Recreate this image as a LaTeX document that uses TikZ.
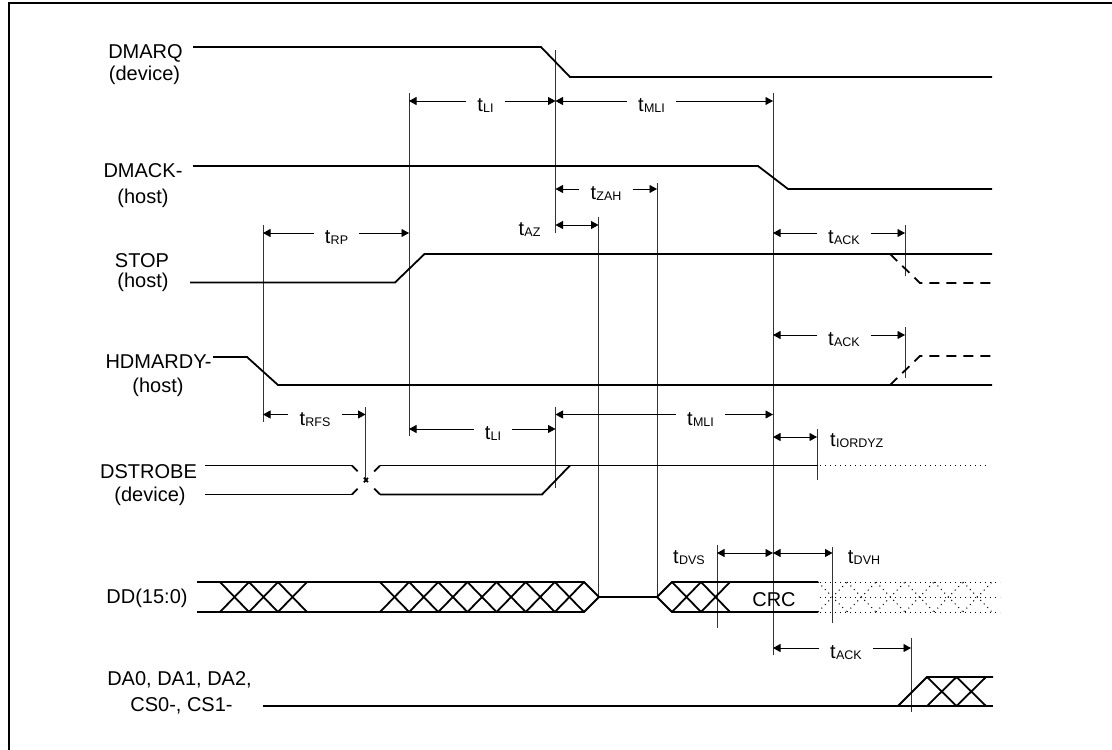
\documentclass[tikz,border=0pt]{standalone}
\usepackage{fontspec}
\setmainfont{Liberation Sans}
\usetikzlibrary{arrows.meta}
\newcommand{\tsubx}[1]{t\kern0.3pt{\fontsize{12.5}{14}\selectfont\raisebox{-1.2pt}{#1}}}
\begin{document}
\begin{tikzpicture}[x=1pt,y=-1pt,
  sig/.style={line width=1.8pt},
  tl/.style={line width=0.9pt,black!80},
  dimr/.style={line width=0.9pt,-{Triangle[length=7.5pt,width=8pt]}},
  dimb/.style={line width=0.9pt,{Triangle[length=7.5pt,width=8pt]}-{Triangle[length=7.5pt,width=8pt]}},
  lbl/.style={font=\fontsize{20}{24}\selectfont,anchor=base,inner sep=0pt},
  tlb/.style={font=\fontsize{20}{24}\selectfont,anchor=base,inner xsep=11pt,inner ysep=0pt},
  dsh/.style={line width=1.8pt,dash pattern=on 10pt off 7pt},
  dot/.style={line width=1pt,dash pattern=on 1pt off 4pt}
]
\useasboundingbox (0,0) rectangle (1112,750);
\fill[white] (0,0) rectangle (1112,750);
% frame
\draw[line width=1.3pt] (9,750) -- (9,3) -- (1112,3);

% signal labels
\node[lbl] (n1a) at (145.5,58) {DMARQ};
\node[lbl] (n1b) at (144.5,80.5) {(device)};
\node[lbl] (n2a) at (143,177) {DMACK-};
\node[lbl] (n2b) at (143,203.5) {(host)};
\node[lbl] (n3a) at (142,267) {STOP};
\node[lbl] (n3b) at (143,287.5) {(host)};
\node[lbl] (n4a) at (158.5,368.5) {HDMARDY-};
\node[lbl] (n4b) at (158,392) {(host)};
\node[lbl] (n5a) at (148.5,478.5) {DSTROBE};
\node[lbl] (n5b) at (150,501.5) {(device)};
\node[lbl] (n6) at (147,603) {DD(15:0)};
\node[lbl] (n7a) at (179.5,685) {DA0, DA1, DA2,};
\node[lbl] (n7b) at (181.5,711) {CS0-, CS1-};

% vertical timing lines
\draw[tl] (409,93) -- (409,436);
\draw[tl] (555.5,50) -- (555.5,233);
\draw[tl] (555.5,407) -- (555.5,488);
\draw[tl] (598.5,217) -- (598.5,597);
\draw[tl] (657,183) -- (657,597);
\draw[tl] (773,93) -- (773,655);
\draw[tl] (263,225) -- (263,422);
\draw[tl] (365.5,407) -- (365.5,480);
\draw[tl] (905,225) -- (905,276);
\draw[tl] (905,327) -- (905,378);
\draw[tl] (911,638) -- (911,712);
\draw[tl] (717,545) -- (717,628);
\draw[tl] (832.5,547) -- (832.5,623);
\draw[tl] (817,429) -- (817,480);

% DMARQ
\draw[sig] (193,47) -- (541,47) -- (570,77) -- (992,77);
% DMACK-
\draw[sig] (193,166) -- (758,166) -- (788,189) -- (992,189);
% STOP
\draw[sig] (190,282.5) -- (395,282.5) -- (424.5,254) -- (992,254);
\draw[dsh] (890,254) -- (920,283) -- (992,283);
% HDMARDY-
\draw[sig] (213,357) -- (247,357) -- (278,385) -- (992,385);
\draw[dsh] (890,385) -- (920,356) -- (992,356);
% DSTROBE
\draw[sig] (205,465.5) -- (352,465.5);
\draw[sig] (205,494.5) -- (352,494.5);
\draw[sig] (380,465.5) -- (818,465.5);
\draw[sig] (380,494.5) -- (542,494.5) -- (570,465.5);
\draw[line width=1.8pt,dash pattern=on 8pt off 9pt on 6pt off 9pt on 8pt] (352,465.5) -- (380,494.5);
\draw[line width=1.8pt,dash pattern=on 8pt off 9pt on 6pt off 9pt on 8pt] (352,494.5) -- (380,465.5);
\draw[dot] (820,465.5) -- (990,465.5);
% DD(15:0)
\draw[sig] (197,582) -- (584,582) -- (599,597) -- (657,597) -- (672,582) -- (818,582);
\draw[sig] (197,612) -- (584,612) -- (599,597);
\draw[sig] (657,597) -- (672,612) -- (818,612);
\foreach \i in {0,1,2} {
  \draw[sig] ({220+29*\i},582) -- ({249+29*\i},612);
  \draw[sig] ({220+29*\i},612) -- ({249+29*\i},582);
}
\foreach \i in {0,...,6} {
  \draw[sig] ({380+29.14*\i},582) -- ({409.14+29.14*\i},612);
  \draw[sig] ({380+29.14*\i},612) -- ({409.14+29.14*\i},582);
}
\foreach \i in {0,1} {
  \draw[sig] ({672+29*\i},582) -- ({701+29*\i},612);
  \draw[sig] ({672+29*\i},612) -- ({701+29*\i},582);
}
\node[lbl] (crc) at (774,606.5) {CRC};
\draw[dot] (820,582) -- (1000,582);
\draw[dot] (820,612) -- (1000,612);
\draw[dot] (820,597) -- (1000,597);
\foreach \i in {0,...,5} {
  \draw[dot] ({818+29*\i},582) -- ({847+29*\i},612);
  \draw[dot] ({818+29*\i},612) -- ({847+29*\i},582);
}
% DA / CS
\draw[sig] (263,706) -- (993,706);
\draw[sig] (898,706) -- (927,677) -- (993,677);
\foreach \i in {0,1} {
  \draw[sig] ({927+29.5*\i},677) -- ({956.5+29.5*\i},706);
  \draw[sig] ({927+29.5*\i},706) -- ({956.5+29.5*\i},677);
}

% timing annotations
\coordinate (a1) at (409,101);   \coordinate (a2) at (555.5,101); \coordinate (a3) at (773,101);
\node[tlb] (tLIu) at (485.5,111.5) {\tsubx{LI}};
\draw[dimr] (tLIu.west |- a1) -- (a1);
\draw[dimr] (tLIu.east |- a2) -- (a2);
\node[tlb] (tMLIu) at (651.5,111.5) {\tsubx{MLI}};
\draw[dimr] (tMLIu.west |- a2) -- (a2);
\draw[dimr] (tMLIu.east |- a3) -- (a3);

\coordinate (z1) at (555.5,189); \coordinate (z2) at (657,189);
\node[tlb] (tZAH) at (606,199.5) {\tsubx{ZAH}};
\draw[dimr] (tZAH.west |- z1) -- (z1);
\draw[dimr] (tZAH.east |- z2) -- (z2);

\coordinate (az1) at (555.5,225); \coordinate (az2) at (598.5,225);
\node[lbl] (tAZ) at (529.5,235) {\tsubx{AZ}};
\draw[dimb] (az1) -- (az2);

\coordinate (r1) at (263,233); \coordinate (r2) at (409,233);
\node[tlb] (tRP) at (336.5,243.5) {\tsubx{RP}};
\draw[dimr] (tRP.west |- r1) -- (r1);
\draw[dimr] (tRP.east |- r2) -- (r2);

\coordinate (k1) at (773,233); \coordinate (k2) at (905,233);
\node[tlb] (tACK1) at (844,243.5) {\tsubx{ACK}};
\draw[dimr] (tACK1.west |- k1) -- (k1);
\draw[dimr] (tACK1.east |- k2) -- (k2);

\coordinate (m1) at (773,335); \coordinate (m2) at (905,335);
\node[tlb] (tACK2) at (844,345.5) {\tsubx{ACK}};
\draw[dimr] (tACK2.west |- m1) -- (m1);
\draw[dimr] (tACK2.east |- m2) -- (m2);

\coordinate (f1) at (263,414.5); \coordinate (f2) at (365.5,414.5);
\node[tlb] (tRFS) at (315,425) {\tsubx{RFS}};
\draw[dimr] (tRFS.west |- f1) -- (f1);
\draw[dimr] (tRFS.east |- f2) -- (f2);

\coordinate (l1) at (409,429); \coordinate (l2) at (555.5,429);
\node[tlb] (tLIl) at (493,439.5) {\tsubx{LI}};
\draw[dimr] (tLIl.west |- l1) -- (l1);
\draw[dimr] (tLIl.east |- l2) -- (l2);

\coordinate (p1) at (555.5,414.5); \coordinate (p2) at (773,414.5);
\node[tlb] (tMLIl) at (700.5,425) {\tsubx{MLI}};
\draw[dimr] (tMLIl.west |- p1) -- (p1);
\draw[dimr] (tMLIl.east |- p2) -- (p2);

\coordinate (i1) at (773,437); \coordinate (i2) at (817,437);
\draw[dimb] (i1) -- (i2);
\node[lbl,anchor=base west] (tIO) at (830,446) {\tsubx{IORDYZ}};

\coordinate (s1) at (717,553); \coordinate (s2) at (773,553); \coordinate (s3) at (832.5,553);
\draw[dimb] (s1) -- (s2);
\draw[dimb] (s2) -- (s3);
\node[lbl] (tDVS) at (689,563) {\tsubx{DVS}};
\node[lbl] (tDVH) at (864,563) {\tsubx{DVH}};

\coordinate (c1) at (773,648); \coordinate (c2) at (911,648);
\node[tlb] (tACK3) at (846,658.5) {\tsubx{ACK}};
\draw[dimr] (tACK3.west |- c1) -- (c1);
\draw[dimr] (tACK3.east |- c2) -- (c2);
\end{tikzpicture}
\end{document}
